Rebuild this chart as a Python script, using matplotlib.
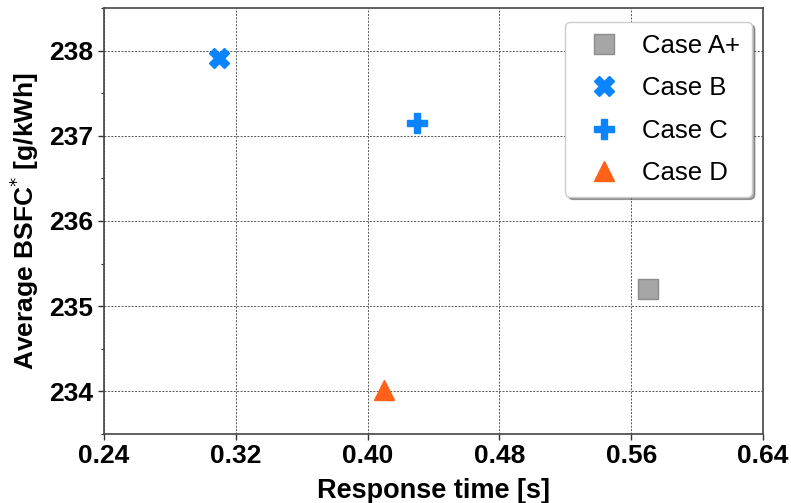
import matplotlib
matplotlib.use("Agg")
import matplotlib.pyplot as plt
from matplotlib.ticker import MultipleLocator

cases = ["Case A+", "Case B", "Case C", "Case D"]
response_time = [0.5705, 0.310, 0.430, 0.410]
avg_bsfc = [235.20, 237.91, 237.15, 234.02]
markers = ["s", "X", "P", "^"]
colors = ["#a6a6a6", "#0a84ff", "#0a84ff", "#ff6119"]
edgecolors = ["#8c8c8c", "#0a84ff", "#0a84ff", "#ff6119"]
x_ticks = [0.24, 0.32, 0.40, 0.48, 0.56, 0.64]
y_ticks = [234, 235, 236, 237, 238]

plt.rcParams["font.family"] = ["Liberation Sans", "DejaVu Sans"]

fig = plt.figure(figsize=(7.91, 5.03), dpi=100)
ax = fig.add_axes([104 / 791, 1 - 434 / 503, (763 - 104) / 791, (434 - 8) / 503])

for name, x, y, m, c, ec in zip(cases, response_time, avg_bsfc, markers, colors, edgecolors):
    ax.plot([x], [y], linestyle="none", marker=m, markersize=15,
            markerfacecolor=c, markeredgecolor=ec, markeredgewidth=1, label=name)

ax.set_xlim(0.24, 0.64)
ax.set_ylim(233.5, 238.5)
ax.set_xticks(x_ticks)
ax.set_xticklabels([f"{v:.2f}" for v in x_ticks])
ax.set_yticks(y_ticks)
ax.yaxis.set_minor_locator(MultipleLocator(0.5))
ax.tick_params(axis="both", which="major", length=4, width=1, labelsize=19, color="#333333")
ax.tick_params(axis="y", which="minor", length=2.5, width=0.8, color="#333333")
for lab in ax.get_xticklabels() + ax.get_yticklabels():
    lab.set_fontweight("bold")

ax.grid(True, which="major", linestyle=(0, (2, 1.5)), linewidth=0.7, color="#555555")
ax.set_axisbelow(True)
for s in ax.spines.values():
    s.set_color("#444444")
    s.set_linewidth(1.2)

ax.set_xlabel("Response time [s]", fontsize=19.5, fontweight="bold", labelpad=7)
ax.set_ylabel(r"Average BSFC$^{*}$ [g/kWh]", fontsize=19, fontweight="bold", labelpad=6)

leg = ax.legend(loc="upper right", fontsize=18.5, frameon=True, shadow=True, fancybox=True,
                borderpad=0.45, labelspacing=0.72, handletextpad=0.45, handlelength=2.1,
                borderaxespad=0.0, bbox_to_anchor=((752 - 104) / 659, 1 - 14 / 426))
leg.get_frame().set_edgecolor("#cccccc")
leg.get_frame().set_alpha(1.0)

fig.savefig("out.png", dpi=100)
